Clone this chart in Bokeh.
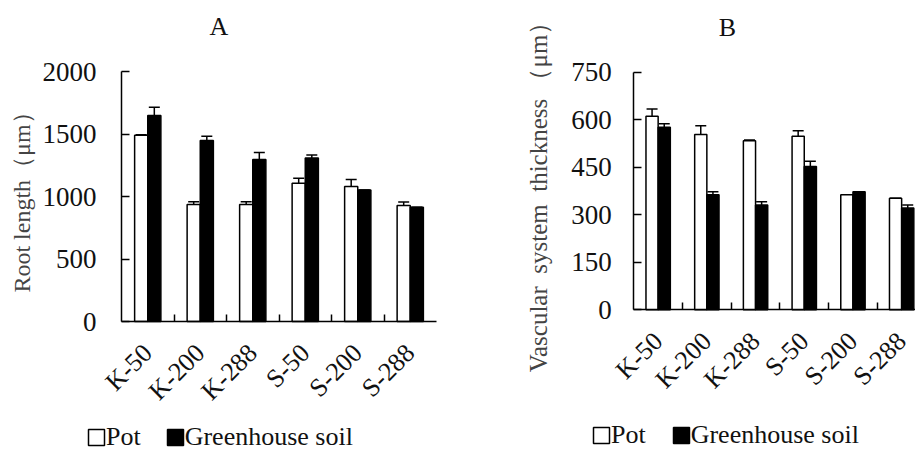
import math
import numpy as np
from bokeh.plotting import figure
from bokeh.layouts import row
from bokeh.models import (ColumnDataSource, FixedTicker, Whisker, TeeHead, Legend,
                          LegendItem, Label, Range1d)
from bokeh.embed import file_html
from bokeh.resources import INLINE

categories = ["K-50", "K-200", "K-288", "S-50", "S-200", "S-288"]

# Panel A: root length (um)
root_pot = [1490, 936, 936, 1107, 1080, 928]
root_pot_err = [5, 22, 22, 40, 56, 28]
root_gh = [1648, 1448, 1296, 1309, 1053, 915]
root_gh_err = [66, 35, 56, 24, 0, 0]
root_ticks = [0, 500, 1000, 1500, 2000]

# Panel B: vascular system thickness (um)
vasc_pot = [611, 553, 534, 548, 363, 352]
vasc_pot_err = [23, 28, 2, 17, 0, 0]
vasc_gh = [576, 363, 331, 452, 373, 321]
vasc_gh_err = [11, 10, 10, 17, 0, 10]
vasc_ticks = [0, 150, 300, 450, 600, 750]

FONT = "Liberation Serif"
HEIGHT = 452


def make_panel(title, ylabel, ylabel_size, pot, pot_err, gh, gh_err, yticks, ymax,
               width, origin_px, cat_px, zero_px, top_px, title_px, tick_standoff,
               label_standoff, legend_loc, legend_spacing):
    """origin_px: canvas x of the y axis; cat_px: width of one category;
    zero_px / top_px: canvas y of the values 0 and ymax."""
    n = len(categories)
    centers = np.arange(n) + 0.5
    xs = 1.0 / cat_px                      # data units per pixel (x)
    ys = ymax / (zero_px - top_px)          # data units per pixel (y)
    x_range = Range1d(-origin_px * xs, (width - origin_px) * xs)
    y_range = Range1d(-(HEIGHT - zero_px) * ys, ymax + top_px * ys)

    p = figure(width=width, height=HEIGHT, output_backend="svg", toolbar_location=None,
               x_range=x_range, y_range=y_range, min_border=0)
    p.outline_line_color = None
    p.grid.visible = False
    p.background_fill_color = "white"
    p.border_fill_color = "white"

    src_pot = ColumnDataSource(dict(x=centers - 0.125, top=pot,
                                    up=np.array(pot) + np.array(pot_err)))
    src_gh = ColumnDataSource(dict(x=centers + 0.125, top=gh,
                                   up=np.array(gh) + np.array(gh_err)))
    r_pot = p.vbar(x="x", top="top", bottom=0, width=0.25, source=src_pot,
                   fill_color="white", line_color="black", line_width=1.5)
    r_gh = p.vbar(x="x", top="top", bottom=0, width=0.25, source=src_gh,
                  fill_color="black", line_color="black", line_width=1.5)
    for s in (src_pot, src_gh):
        w = Whisker(source=s, base="x", lower="top", upper="up", dimension="height",
                    line_color="black", line_width=1.5, lower_head=None,
                    upper_head=TeeHead(size=11, line_color="black", line_width=1.5))
        p.add_layout(w)

    # x axis, drawn at the value 0
    xa = p.xaxis[0]
    xa.fixed_location = 0
    xa.bounds = (0, n)
    xa.ticker = FixedTicker(ticks=list(centers), minor_ticks=list(np.arange(1, n)))
    xa.major_label_overrides = {float(c): lab for c, lab in zip(centers, categories)}
    xa.major_tick_line_color = None
    xa.major_tick_in = 0
    xa.major_tick_out = 0
    xa.minor_tick_in = 7
    xa.minor_tick_out = 0
    xa.minor_tick_line_color = "black"
    xa.minor_tick_line_width = 1.5
    xa.axis_line_color = "black"
    xa.axis_line_width = 1.5
    xa.major_label_orientation = math.pi / 4
    xa.major_label_text_font = FONT
    xa.major_label_text_font_size = "26px"
    xa.major_label_text_color = "#111111"
    xa.major_label_standoff = 27

    # y axis, drawn at x = 0
    ya = p.yaxis[0]
    ya.fixed_location = 0
    ya.bounds = (0, ymax)
    ya.ticker = FixedTicker(ticks=yticks)
    ya.minor_tick_line_color = None
    ya.major_tick_in = 8
    ya.major_tick_out = 0
    ya.major_tick_line_color = "black"
    ya.major_tick_line_width = 1.5
    ya.axis_line_color = "black"
    ya.axis_line_width = 1.5
    ya.major_label_text_font = FONT
    ya.major_label_text_font_size = "27px"
    ya.major_label_text_color = "#111111"
    ya.major_label_standoff = tick_standoff
    ya.axis_label = ylabel
    ya.axis_label_text_font = FONT
    ya.axis_label_text_font_style = "normal"
    ya.axis_label_text_font_size = ylabel_size
    ya.axis_label_text_color = "#444444"
    ya.axis_label_standoff = label_standoff

    # panel title
    tx, ty = title_px
    p.add_layout(Label(x=(tx - origin_px) * xs, y=(zero_px - ty) * ys, text=title,
                       text_align="center", text_baseline="middle", text_font=FONT,
                       text_font_size="26px", text_color="#111111"))

    legend = Legend(items=[LegendItem(label="Pot", renderers=[r_pot]),
                           LegendItem(label="Greenhouse soil", renderers=[r_gh])],
                    orientation="horizontal", location=legend_loc,
                    label_text_font=FONT, label_text_font_size="26px",
                    label_text_color="#111111",
                    glyph_width=20, glyph_height=20, label_standoff=0,
                    spacing=legend_spacing,
                    padding=0, margin=0, border_line_color=None,
                    background_fill_alpha=0)
    p.add_layout(legend, "center")
    return p


pA = make_panel("A", "Root length（μm）", "24px", root_pot, root_pot_err, root_gh,
                root_gh_err, root_ticks, 2000, width=456, origin_px=121, cat_px=52.5,
                zero_px=321, top_px=71, title_px=(218.5, 26), tick_standoff=25,
                label_standoff=5, legend_loc=(86, 0), legend_spacing=24)
pB = make_panel("B", "Vascular\u00a0 system\u00a0 thickness\u00a0（μm）", "25px",
                vasc_pot, vasc_pot_err, vasc_gh, vasc_gh_err, vasc_ticks, 750,
                width=459, origin_px=177.3, cat_px=48.7, zero_px=309.3, top_px=71.7,
                title_px=(271, 26.5), tick_standoff=22, label_standoff=16,
                legend_loc=(135, 2.5), legend_spacing=25)

layout = row(pA, pB)
open("out.html", "w").write(file_html(layout, INLINE))
